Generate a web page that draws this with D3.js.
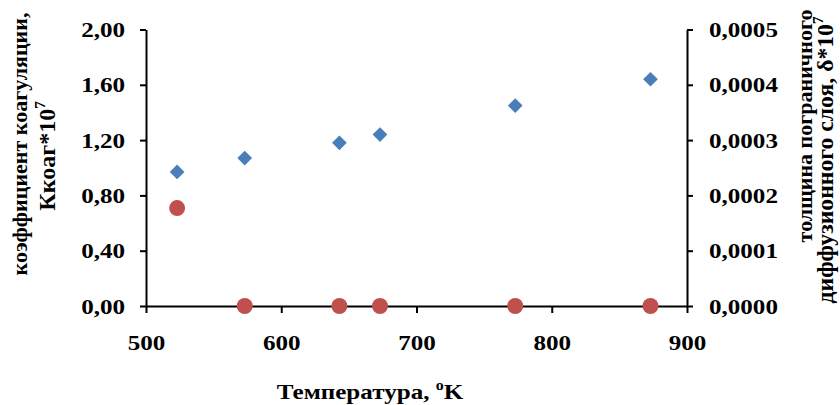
<!DOCTYPE html>
<html>
<head>
<meta charset="utf-8">
<script src="https://cdn.jsdelivr.net/npm/d3@7"></script>
<style>
  html, body { margin: 0; padding: 0; background: #fff; }
  svg { display: block; }
  text { font-family: "Liberation Serif", "Times New Roman", serif; font-weight: bold; fill: #000; }
</style>
</head>
<body>
<svg id="chart" width="840" height="405"></svg>
<script>
// Temperature, K
const temps = [523, 573, 643, 673, 773, 873];
// Coagulation coefficient Kcoag*10^7 (left axis)
const kcoag = [0.97, 1.07, 1.18, 1.24, 1.45, 1.64];
// Boundary diffusion layer thickness (right axis)
const delta = [0.000177, 0, 0, 0, 0, 0];

const xTicks = [500, 600, 700, 800, 900];
const yLeftTicks = [0, 0.4, 0.8, 1.2, 1.6, 2.0];
const yRightTicks = [0, 0.0001, 0.0002, 0.0003, 0.0004, 0.0005];

const blue = "#4A7EBB";
const red = "#C0504D";
const fontSize = 22;
const stretch = 1.14;

const svg = d3.select("#chart");

const ru = d3.formatLocale({ decimal: ",", thousands: "\u00a0", grouping: [3], currency: ["", ""] });

const x = d3.scaleLinear().domain([500, 900]).range([146, 687]);
const yL = d3.scaleLinear().domain([0, 2]).range([306, 29.5]);
const yR = d3.scaleLinear().domain([0, 0.0005]).range([306, 29.5]);

function styleAxis(g) {
  g.attr("font-family", null);
  g.select(".domain").attr("stroke", "#000").attr("stroke-width", 2);
  g.selectAll(".tick line").attr("stroke", "#000").attr("stroke-width", 2);
  g.selectAll(".tick text")
    .attr("font-size", fontSize)
    .attr("transform", `scale(${stretch},1)`);
}

// bottom axis
svg.append("g")
  .attr("transform", `translate(0,${yL(0)})`)
  .call(d3.axisBottom(x).tickValues(xTicks).tickFormat(d3.format("d"))
    .tickSizeInner(7).tickSizeOuter(0).tickPadding(21.4))
  .call(styleAxis);

// left axis
svg.append("g")
  .attr("transform", `translate(${x(500)},0)`)
  .call(d3.axisLeft(yL).tickValues(yLeftTicks).tickFormat(ru.format(".2f"))
    .tickSizeInner(6).tickSizeOuter(0).tickPadding(12.4))
  .call(styleAxis);

// right axis
svg.append("g")
  .attr("transform", `translate(${x(900)},0)`)
  .call(d3.axisRight(yR).tickValues(yRightTicks).tickFormat(ru.format(".4f"))
    .tickSizeInner(6).tickSizeOuter(0).tickPadding(13.3))
  .call(styleAxis);

// coagulation coefficient markers (diamonds)
const diamond = d3.symbol().type(d3.symbolSquare).size(108);
svg.append("g").selectAll("path")
  .data(temps.map((t, i) => ({ t, v: kcoag[i] })))
  .join("path")
  .attr("d", diamond)
  .attr("fill", blue)
  .attr("transform", d => `translate(${x(d.t)},${yL(d.v)}) rotate(45)`);

// boundary layer thickness markers (circles)
svg.append("g").selectAll("circle")
  .data(temps.map((t, i) => ({ t, v: delta[i] })))
  .join("circle")
  .attr("cx", d => x(d.t))
  .attr("cy", d => yR(d.v))
  .attr("r", 8)
  .attr("fill", red);

// x axis title
const xt = svg.append("text")
  .attr("transform", `translate(370,399) scale(${stretch},1)`)
  .attr("text-anchor", "middle")
  .attr("font-size", fontSize);
xt.append("tspan").text("Температура, ");
xt.append("tspan").attr("font-size", 14).attr("dy", -9).text("o");
xt.append("tspan").attr("dy", 9).text("K");

// left axis title (two lines)
svg.append("text")
  .attr("transform", "translate(27,144) rotate(-90)")
  .attr("text-anchor", "middle")
  .attr("font-size", fontSize)
  .text("коэффициент коагуляции,");
const lt2 = svg.append("text")
  .attr("transform", "translate(55,156) rotate(-90)")
  .attr("text-anchor", "middle")
  .attr("font-size", 24);
lt2.append("tspan").text("Ккоаг*10");
lt2.append("tspan").attr("font-size", 15).attr("dy", -10).text("7");

// right axis title (two lines)
svg.append("text")
  .attr("transform", "translate(812,126) rotate(-90)")
  .attr("text-anchor", "middle")
  .attr("font-size", fontSize)
  .text("толщина пограничного");
const rt2 = svg.append("text")
  .attr("transform", "translate(833,160) rotate(-90)")
  .attr("text-anchor", "middle")
  .attr("font-size", 23.7);
rt2.append("tspan").text("диффузионного слоя, δ*10");
rt2.append("tspan").attr("font-size", 15).attr("dy", -10).text("7");
</script>
</body>
</html>
